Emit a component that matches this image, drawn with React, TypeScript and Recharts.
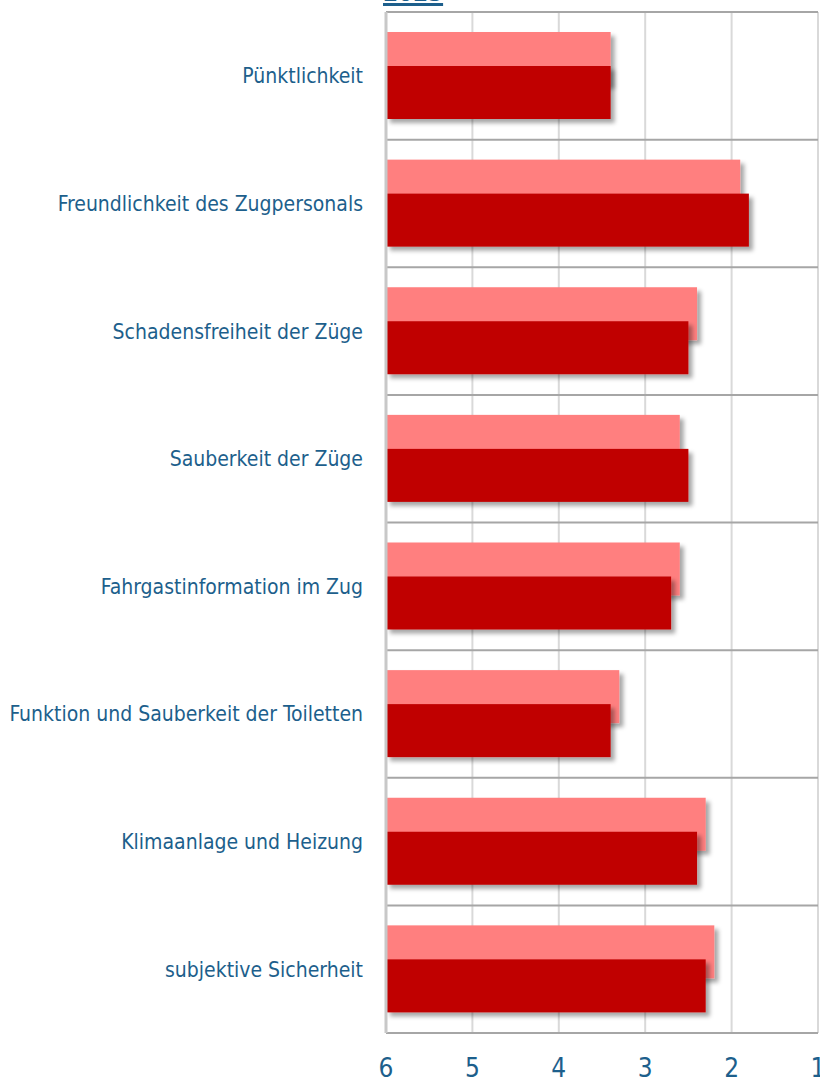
import React from "react";
import { BarChart, Bar, XAxis, YAxis, CartesianGrid } from "recharts";

const categories = [
  "Pünktlichkeit",
  "Freundlichkeit des Zugpersonals",
  "Schadensfreiheit der Züge",
  "Sauberkeit der Züge",
  "Fahrgastinformation im Zug",
  "Funktion und Sauberkeit der Toiletten",
  "Klimaanlage und Heizung",
  "subjektive Sicherheit",
];
const previous = [3.4, 1.9, 2.4, 2.6, 2.6, 3.3, 2.3, 2.2];
const current = [3.4, 1.8, 2.5, 2.5, 2.7, 3.4, 2.4, 2.3];
const gradeTicks = [1, 2, 3, 4, 5, 6];

const data = categories.map((name, i) => ({
  name,
  previous: previous[i],
  current: current[i],
}));

const BLUE = "#1d5f8c";
const FONT = '"DejaVu Sans Condensed", "DejaVu Sans", sans-serif';

// bars run from grade 6 (left) towards the value
const ShadowBar = (props: any) => {
  const { x, y, width, height, fill } = props;
  const left = Math.min(x, x + width);
  return (
    <rect
      x={left}
      y={y}
      width={Math.abs(width)}
      height={height}
      fill={fill}
      filter="url(#barShadow)"
    />
  );
};

// separator lines sit on the category band edges (category axis has no padding)
const bandEdges = ({ offset }: any) => {
  const step = offset.height / categories.length;
  return categories.map((_, i) => offset.top + i * step).concat(offset.top + offset.height);
};

export default function App() {
  return (
    <div style={{ position: "absolute", left: 0, top: 0, width: 820, height: 1081, overflow: "hidden", background: "#fff" }}>
      <div
        style={{
          position: "absolute",
          left: 383,
          top: -21,
          fontFamily: FONT,
          fontSize: 24,
          fontWeight: "bold",
          color: BLUE,
          textDecoration: "underline",
          textDecorationThickness: 3,
        }}
      >
        2023
      </div>
      <BarChart
        width={820}
        height={1081}
        data={data}
        layout="vertical"
        margin={{ top: 12, right: 2, left: 0, bottom: 0 }}
        barSize={53}
        barGap={-19}
        style={{ position: "absolute", left: 0, top: 0 }}
      >
        <defs>
          <filter id="barShadow" x="-10%" y="-20%" width="130%" height="160%">
            <feDropShadow dx="4" dy="4" stdDeviation="2" floodColor="#000" floodOpacity="0.35" />
          </filter>
        </defs>
        <CartesianGrid horizontal={false} stroke="#d9d9d9" strokeWidth={2} />
        <CartesianGrid
          vertical={false}
          horizontalCoordinatesGenerator={bandEdges}
          stroke="#a6a6a6"
          strokeWidth={2}
        />
        <XAxis
          type="number"
          domain={[1, 6]}
          ticks={gradeTicks}
          reversed
          height={48}
          axisLine={false}
          tickLine={false}
          tickSize={0}
          tickMargin={26}
          interval={0}
          tick={{ fill: BLUE, fontSize: 26, fontFamily: FONT }}
        />
        <YAxis
          type="category"
          dataKey="name"
          width={386}
          axisLine={{ stroke: "#c8c8c8", strokeWidth: 3 }}
          tickLine={false}
          tickSize={0}
          tickMargin={23}
          interval={0}
          tick={{ fill: BLUE, fontSize: 21, fontFamily: FONT }}
        />
        <Bar
          dataKey={(d: any) => [6, d.previous]}
          fill="#ff7f7f"
          shape={ShadowBar}
          isAnimationActive={false}
        />
        <Bar
          dataKey={(d: any) => [6, d.current]}
          fill="#c00000"
          shape={ShadowBar}
          isAnimationActive={false}
        />
      </BarChart>
    </div>
  );
}
